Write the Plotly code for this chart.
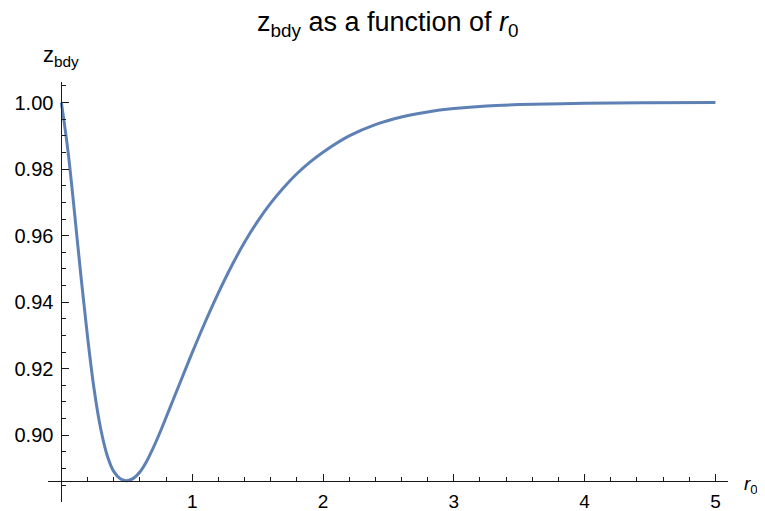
import plotly.graph_objects as go

# data
r0 = [0.00, 0.05, 0.10, 0.15, 0.20, 0.25, 0.30, 0.35, 0.40, 0.45, 0.50, 0.55,
      0.60, 0.65, 0.70, 0.75, 0.80, 0.85, 0.90, 1.00, 1.10, 1.20, 1.30, 1.40,
      1.50, 1.60, 1.70, 1.80, 1.90, 2.00, 2.20, 2.40, 2.60, 2.80, 3.00, 3.25,
      3.50, 4.00, 4.50, 5.00]
z_bdy = [1.0000, 0.9855, 0.9670, 0.9475, 0.9295, 0.9138, 0.9020, 0.8939, 0.8891,
         0.8869, 0.8863, 0.8870, 0.8889, 0.8920, 0.8960, 0.9005, 0.9053, 0.9102,
         0.9151, 0.9248, 0.9341, 0.9428, 0.9508, 0.9580, 0.9643, 0.9698, 0.9745,
         0.9786, 0.9821, 0.9851, 0.9900, 0.9934, 0.9957, 0.9972, 0.9982, 0.9990,
         0.9994, 0.9998, 0.99995, 1.0000]

x_ticks = [1, 2, 3, 4, 5]
x_tick_labels = ["1", "2", "3", "4", "5"]
y_ticks = [0.90, 0.92, 0.94, 0.96, 0.98, 1.00]
y_tick_labels = ["0.90", "0.92", "0.94", "0.96", "0.98", "1.00"]

x_range = [-0.1025, 5.096]
y_range = [0.8799, 1.0062]
x_axis_at = 0.8863   # y value where horizontal axis crosses
y_axis_at = 0.0      # x value where vertical axis crosses

x_minor = [round(0.2 * k, 2) for k in range(1, 26) if k % 5 != 0]
y_minor = [round(0.880 + 0.005 * k, 3) for k in range(0, 26)
           if round(0.880 + 0.005 * k, 3) not in y_ticks]

FONT = "Liberation Sans, Arial, sans-serif"
AXC = "#1a1a1a"

fig = go.Figure()
fig.add_trace(go.Scatter(x=r0, y=z_bdy, mode="lines",
                         line=dict(color="#5E81B5", width=3, shape="spline", smoothing=1.0),
                         hoverinfo="skip", showlegend=False))

xpos = (x_axis_at - y_range[0]) / (y_range[1] - y_range[0])
ypos = (y_axis_at - x_range[0]) / (x_range[1] - x_range[0])

# page body has an 8px margin; figure is sized to fit the window
OFF = 8
W, H = 757, 503
L, T = 48 - OFF, 82 - OFF
R = W - (728 - OFF)
B = H - (502 - OFF)
PW = W - L - R
PH = H - T - B


def px_to_paper(px, py):
    return (px - OFF - L) / PW, (H - B - (py - OFF)) / PH


tx, ty = px_to_paper(388, 24)
zx, zy = px_to_paper(61, 56)
rx, ry = px_to_paper(742, 485)

fig.update_layout(
    width=W, height=H,
    margin=dict(l=L, r=R, t=T, b=B, autoexpand=False),
    paper_bgcolor="white", plot_bgcolor="white",
    font=dict(family=FONT, color="black"),
    xaxis=dict(range=x_range, domain=[0, 1], anchor="free", position=xpos,
               automargin=False,
               showgrid=False, zeroline=False, showline=True, linecolor=AXC, linewidth=1,
               tickmode="array", tickvals=x_ticks, ticktext=x_tick_labels,
               ticks="inside", ticklen=7, tickcolor=AXC, tickwidth=1,
               tickfont=dict(size=19, family=FONT, color="black"),
               minor=dict(tickmode="array", tickvals=x_minor, ticks="inside",
                          ticklen=4, tickcolor=AXC, tickwidth=1, showgrid=False),
               ticklabelstandoff=3),
    yaxis=dict(range=y_range, domain=[0, 1], anchor="free", position=ypos,
               automargin=False,
               showgrid=False, zeroline=False, showline=True, linecolor=AXC, linewidth=1,
               tickmode="array", tickvals=y_ticks, ticktext=y_tick_labels,
               ticks="inside", ticklen=7, tickcolor=AXC, tickwidth=1,
               tickfont=dict(size=20, family=FONT, color="black"),
               minor=dict(tickmode="array", tickvals=y_minor, ticks="inside",
                          ticklen=4, tickcolor=AXC, tickwidth=1, showgrid=False),
               ticklabelstandoff=4),
    annotations=[
        dict(text="z<sub>bdy</sub> as a function of <i>r</i><sub>0</sub>",
             xref="paper", yref="paper", x=tx, y=ty,
             xanchor="center", yanchor="middle", showarrow=False,
             font=dict(size=27, family=FONT, color="black")),
        dict(text="z<sub>bdy</sub>",
             xref="paper", yref="paper", x=zx, y=zy,
             xanchor="center", yanchor="middle", showarrow=False,
             font=dict(size=22, family=FONT, color="black")),
        dict(text="<i>r</i><sub>0</sub>",
             xref="paper", yref="paper", x=rx, y=ry,
             xanchor="left", yanchor="middle", showarrow=False,
             font=dict(size=19, family=FONT, color="black")),
    ],
)

fig.write_html("out.html")
